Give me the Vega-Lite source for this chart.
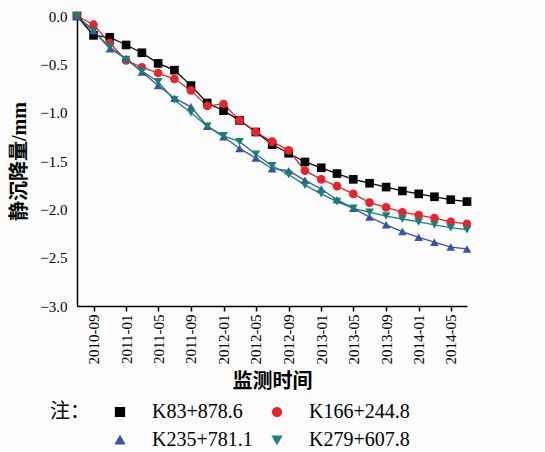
{
  "$schema": "https://vega.github.io/schema/vega-lite/v6.json",
  "width": 390,
  "height": 290,
  "autosize": "none",
  "padding": {"left": 77, "top": 16, "right": 78, "bottom": 146},
  "background": "#fcfcfc",
  "config": {"view": {"stroke": null}, "font": "Liberation Serif"},
  "data": {"values": [
    {"d":"2010-07-01","s":"K83+878.6","v":0},{"d":"2010-09-01","s":"K83+878.6","v":-0.20},{"d":"2010-11-01","s":"K83+878.6","v":-0.22},{"d":"2011-01-01","s":"K83+878.6","v":-0.30},{"d":"2011-03-01","s":"K83+878.6","v":-0.38},{"d":"2011-05-01","s":"K83+878.6","v":-0.49},{"d":"2011-07-01","s":"K83+878.6","v":-0.56},{"d":"2011-09-01","s":"K83+878.6","v":-0.72},{"d":"2011-11-01","s":"K83+878.6","v":-0.90},{"d":"2012-01-01","s":"K83+878.6","v":-0.98},{"d":"2012-03-01","s":"K83+878.6","v":-1.08},{"d":"2012-05-01","s":"K83+878.6","v":-1.20},{"d":"2012-07-01","s":"K83+878.6","v":-1.33},{"d":"2012-09-01","s":"K83+878.6","v":-1.42},{"d":"2012-11-01","s":"K83+878.6","v":-1.51},{"d":"2013-01-01","s":"K83+878.6","v":-1.57},{"d":"2013-03-01","s":"K83+878.6","v":-1.63},{"d":"2013-05-01","s":"K83+878.6","v":-1.69},{"d":"2013-07-01","s":"K83+878.6","v":-1.73},{"d":"2013-09-01","s":"K83+878.6","v":-1.77},{"d":"2013-11-01","s":"K83+878.6","v":-1.81},{"d":"2014-01-01","s":"K83+878.6","v":-1.84},{"d":"2014-03-01","s":"K83+878.6","v":-1.87},{"d":"2014-05-01","s":"K83+878.6","v":-1.90},{"d":"2014-07-01","s":"K83+878.6","v":-1.92},
    {"d":"2010-07-01","s":"K166+244.8","v":0},{"d":"2010-09-01","s":"K166+244.8","v":-0.09},{"d":"2010-11-01","s":"K166+244.8","v":-0.28},{"d":"2011-01-01","s":"K166+244.8","v":-0.46},{"d":"2011-03-01","s":"K166+244.8","v":-0.53},{"d":"2011-05-01","s":"K166+244.8","v":-0.59},{"d":"2011-07-01","s":"K166+244.8","v":-0.65},{"d":"2011-09-01","s":"K166+244.8","v":-0.77},{"d":"2011-11-01","s":"K166+244.8","v":-0.93},{"d":"2012-01-01","s":"K166+244.8","v":-0.91},{"d":"2012-03-01","s":"K166+244.8","v":-1.08},{"d":"2012-05-01","s":"K166+244.8","v":-1.20},{"d":"2012-07-01","s":"K166+244.8","v":-1.30},{"d":"2012-09-01","s":"K166+244.8","v":-1.39},{"d":"2012-11-01","s":"K166+244.8","v":-1.60},{"d":"2013-01-01","s":"K166+244.8","v":-1.69},{"d":"2013-03-01","s":"K166+244.8","v":-1.76},{"d":"2013-05-01","s":"K166+244.8","v":-1.84},{"d":"2013-07-01","s":"K166+244.8","v":-1.93},{"d":"2013-09-01","s":"K166+244.8","v":-1.98},{"d":"2013-11-01","s":"K166+244.8","v":-2.03},{"d":"2014-01-01","s":"K166+244.8","v":-2.06},{"d":"2014-03-01","s":"K166+244.8","v":-2.09},{"d":"2014-05-01","s":"K166+244.8","v":-2.13},{"d":"2014-07-01","s":"K166+244.8","v":-2.15},
    {"d":"2010-07-01","s":"K235+781.1","v":0},{"d":"2010-09-01","s":"K235+781.1","v":-0.15},{"d":"2010-11-01","s":"K235+781.1","v":-0.34},{"d":"2011-01-01","s":"K235+781.1","v":-0.44},{"d":"2011-03-01","s":"K235+781.1","v":-0.58},{"d":"2011-05-01","s":"K235+781.1","v":-0.72},{"d":"2011-07-01","s":"K235+781.1","v":-0.85},{"d":"2011-09-01","s":"K235+781.1","v":-0.94},{"d":"2011-11-01","s":"K235+781.1","v":-1.14},{"d":"2012-01-01","s":"K235+781.1","v":-1.25},{"d":"2012-03-01","s":"K235+781.1","v":-1.37},{"d":"2012-05-01","s":"K235+781.1","v":-1.47},{"d":"2012-07-01","s":"K235+781.1","v":-1.58},{"d":"2012-09-01","s":"K235+781.1","v":-1.60},{"d":"2012-11-01","s":"K235+781.1","v":-1.70},{"d":"2013-01-01","s":"K235+781.1","v":-1.79},{"d":"2013-03-01","s":"K235+781.1","v":-1.90},{"d":"2013-05-01","s":"K235+781.1","v":-1.99},{"d":"2013-07-01","s":"K235+781.1","v":-2.08},{"d":"2013-09-01","s":"K235+781.1","v":-2.16},{"d":"2013-11-01","s":"K235+781.1","v":-2.23},{"d":"2014-01-01","s":"K235+781.1","v":-2.29},{"d":"2014-03-01","s":"K235+781.1","v":-2.34},{"d":"2014-05-01","s":"K235+781.1","v":-2.39},{"d":"2014-07-01","s":"K235+781.1","v":-2.41},
    {"d":"2010-07-01","s":"K279+607.8","v":0},{"d":"2010-09-01","s":"K279+607.8","v":-0.16},{"d":"2010-11-01","s":"K279+607.8","v":-0.32},{"d":"2011-01-01","s":"K279+607.8","v":-0.45},{"d":"2011-03-01","s":"K279+607.8","v":-0.57},{"d":"2011-05-01","s":"K279+607.8","v":-0.68},{"d":"2011-07-01","s":"K279+607.8","v":-0.87},{"d":"2011-09-01","s":"K279+607.8","v":-1.00},{"d":"2011-11-01","s":"K279+607.8","v":-1.14},{"d":"2012-01-01","s":"K279+607.8","v":-1.24},{"d":"2012-03-01","s":"K279+607.8","v":-1.30},{"d":"2012-05-01","s":"K279+607.8","v":-1.43},{"d":"2012-07-01","s":"K279+607.8","v":-1.55},{"d":"2012-09-01","s":"K279+607.8","v":-1.64},{"d":"2012-11-01","s":"K279+607.8","v":-1.75},{"d":"2013-01-01","s":"K279+607.8","v":-1.84},{"d":"2013-03-01","s":"K279+607.8","v":-1.92},{"d":"2013-05-01","s":"K279+607.8","v":-1.99},{"d":"2013-07-01","s":"K279+607.8","v":-2.03},{"d":"2013-09-01","s":"K279+607.8","v":-2.07},{"d":"2013-11-01","s":"K279+607.8","v":-2.10},{"d":"2014-01-01","s":"K279+607.8","v":-2.13},{"d":"2014-03-01","s":"K279+607.8","v":-2.16},{"d":"2014-05-01","s":"K279+607.8","v":-2.19},{"d":"2014-07-01","s":"K279+607.8","v":-2.21}
  ]},
  "encoding": {
    "x": {
      "field": "d", "type": "temporal",
      "scale": {"type": "utc", "domain": [{"year": 2010, "month": 7, "date": 1, "utc": true}, {"year": 2014, "month": 7, "date": 1, "utc": true}]},
      "axis": {
        "title": "监测时间", "format": "%Y-%m", "labelAngle": -90,
        "tickCount": {"interval": "month", "step": 4},
        "grid": false, "domainColor": "#000", "domainWidth": 1.5,
        "tickColor": "#000", "tickSize": 5, "tickWidth": 1.5,
        "labelFont": "Liberation Serif", "labelFontSize": 15, "labelColor": "#000", "labelPadding": 3,
        "titleFont": "Liberation Serif, Noto Sans CJK SC", "titleFontSize": 20, "titleFontWeight": "bold", "titleColor": "#000", "titlePadding": 8
      }
    },
    "y": {
      "field": "v", "type": "quantitative",
      "scale": {"domain": [-3, 0], "nice": false},
      "axis": {
        "title": "静沉降量/mm", "values": [0, -0.5, -1, -1.5, -2, -2.5, -3], "format": ".1f",
        "labelExpr": "replace(datum.label, '-', '−')",
        "ticks": false, "grid": false, "domainColor": "#000", "domainWidth": 1.5,
        "labelFont": "Liberation Serif", "labelFontSize": 15, "labelColor": "#000", "labelPadding": 10,
        "titleFont": "Liberation Serif, Noto Sans CJK SC", "titleFontSize": 20, "titleFontWeight": "bold", "titleColor": "#000", "titlePadding": 10
      }
    },
    "color": {
      "field": "s", "type": "nominal",
      "scale": {"domain": ["K83+878.6", "K166+244.8", "K235+781.1", "K279+607.8"], "range": ["#000000", "#e8242b", "#3a52a3", "#178079"]},
      "legend": {
        "orient": "none", "legendX": -27, "legendY": 386, "direction": "horizontal",
        "title": "注：", "titleOrient": "left", "titleAnchor": "start", "titleBaseline": "top", "titleAngle": 0,
        "titleFont": "Noto Sans CJK SC", "titleFontSize": 20, "titleFontWeight": "normal", "titleColor": "#000", "titlePadding": 20,
        "columns": 2, "columnPadding": 14, "rowPadding": 8,
        "labelFont": "Liberation Serif", "labelFontSize": 20, "labelColor": "#000", "labelOffset": 22,
        "symbolSize": 80, "symbolStrokeWidth": 1.3
      }
    }
  },
  "layer": [
    {"mark": {"type": "line", "strokeWidth": 1.3}},
    {
      "mark": {"type": "point", "filled": true, "size": 75, "opacity": 1},
      "encoding": {
        "shape": {
          "field": "s", "type": "nominal",
          "scale": {"domain": ["K83+878.6", "K166+244.8", "K235+781.1", "K279+607.8"], "range": ["square", "circle", "triangle-up", "triangle-down"]},
          "legend": null
        }
      }
    }
  ]
}
